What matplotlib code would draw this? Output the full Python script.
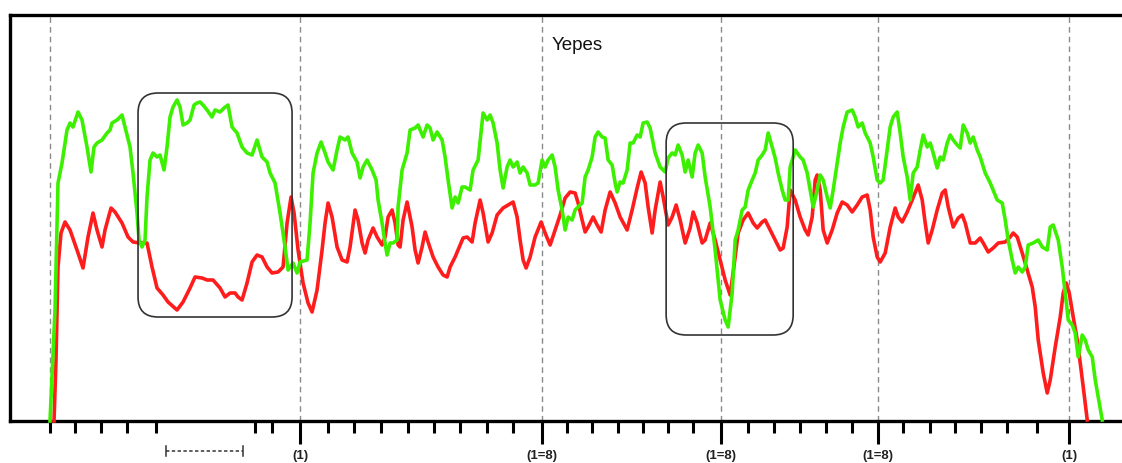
import matplotlib
matplotlib.use("Agg")
import matplotlib.pyplot as plt
from matplotlib.patches import FancyBboxPatch

plt.rcParams['font.family'] = ['Liberation Sans', 'DejaVu Sans']

title = "Yepes"

green_x = [50, 55, 58, 62, 67, 70, 73, 78, 82, 87, 91, 94, 97, 102, 107, 110, 112, 117, 122, 125, 130, 133, 137, 139, 142, 145, 147, 150, 153, 157, 160, 164, 167, 170, 173, 177, 180, 183, 187, 190, 194, 197, 200, 203, 207, 212, 215, 220, 224, 228, 232, 237, 242, 247, 252, 257, 262, 267, 270, 275, 280, 285, 288, 293, 297, 300, 307, 310, 313, 317, 321, 325, 328, 333, 337, 340, 345, 348, 352, 357, 360, 363, 367, 372, 376, 378, 382, 385, 387, 390, 393, 397, 398, 402, 407, 410, 415, 418, 423, 427, 430, 433, 437, 442, 445, 448, 452, 455, 458, 462, 465, 470, 473, 478, 482, 483, 487, 490, 493, 497, 500, 503, 507, 510, 513, 517, 520, 523, 527, 530, 535, 538, 542, 545, 548, 552, 555, 558, 562, 565, 568, 572, 575, 578, 582, 585, 588, 592, 595, 598, 602, 605, 608, 612, 615, 617, 620, 623, 627, 630, 633, 637, 640, 643, 647, 650, 655, 660, 665, 668, 672, 675, 678, 682, 685, 688, 692, 695, 698, 702, 705, 710, 715, 720, 725, 728, 732, 735, 738, 742, 745, 748, 752, 755, 758, 762, 765, 768, 772, 775, 778, 782, 785, 788, 790, 795, 800, 803, 807, 810, 813, 817, 820, 823, 827, 830, 833, 837, 840, 843, 847, 852, 855, 858, 862, 865, 870, 873, 877, 880, 883, 887, 890, 893, 897, 900, 903, 907, 910, 913, 917, 920, 923, 927, 930, 933, 937, 940, 943, 947, 950, 953, 957, 960, 963, 967, 970, 973, 977, 980, 985, 990, 997, 1002, 1005, 1008, 1012, 1015, 1018, 1022, 1025, 1028, 1033, 1038, 1042, 1047, 1050, 1053, 1058, 1062, 1065, 1068, 1072, 1075, 1078, 1082, 1085, 1088, 1092, 1095, 1098, 1102]
green_y = [0, 111, 238, 258, 291, 298, 294, 309, 301, 274, 249, 274, 278, 281, 288, 291, 298, 301, 306, 294, 274, 248, 208, 181, 174, 181, 224, 261, 268, 264, 266, 251, 274, 304, 314, 321, 314, 296, 298, 301, 316, 318, 319, 316, 311, 304, 311, 309, 313, 316, 294, 288, 274, 268, 266, 281, 264, 259, 248, 238, 208, 174, 151, 158, 148, 159, 161, 198, 248, 268, 279, 268, 259, 251, 271, 284, 281, 284, 268, 259, 243, 254, 261, 251, 241, 221, 198, 178, 166, 178, 178, 181, 214, 251, 268, 291, 293, 296, 284, 296, 293, 281, 289, 281, 264, 241, 213, 224, 218, 234, 234, 231, 251, 261, 298, 308, 301, 306, 298, 278, 251, 233, 254, 261, 254, 259, 248, 254, 248, 236, 236, 238, 261, 254, 261, 266, 254, 231, 211, 191, 204, 201, 211, 214, 218, 244, 251, 264, 284, 289, 284, 283, 261, 256, 238, 229, 239, 238, 251, 278, 278, 286, 284, 298, 299, 293, 268, 254, 249, 263, 268, 266, 276, 266, 249, 261, 244, 268, 276, 268, 244, 214, 171, 121, 101, 94, 128, 181, 191, 211, 214, 231, 241, 248, 261, 266, 271, 288, 274, 263, 248, 231, 221, 221, 254, 271, 264, 261, 248, 231, 214, 231, 246, 241, 224, 213, 231, 258, 278, 294, 309, 311, 304, 294, 298, 288, 278, 264, 241, 238, 241, 271, 294, 304, 309, 288, 264, 244, 221, 248, 254, 271, 286, 274, 278, 268, 253, 264, 261, 278, 286, 281, 276, 273, 296, 288, 278, 284, 271, 264, 248, 238, 221, 218, 201, 181, 161, 148, 154, 149, 154, 176, 178, 181, 174, 171, 194, 196, 181, 154, 128, 101, 96, 88, 64, 86, 81, 71, 64, 41, 24, 1]

red_x = [54, 56, 58, 61, 65, 70, 77, 83, 88, 93, 97, 102, 105, 111, 115, 122, 128, 133, 140, 147, 152, 157, 163, 168, 177, 183, 190, 195, 202, 207, 213, 220, 225, 230, 235, 238, 242, 247, 252, 257, 262, 267, 272, 278, 283, 287, 291, 294, 298, 303, 308, 312, 317, 322, 325, 328, 332, 337, 342, 347, 350, 355, 358, 362, 365, 368, 373, 377, 382, 385, 388, 392, 395, 398, 400, 403, 407, 412, 415, 418, 422, 425, 428, 433, 438, 443, 447, 450, 455, 460, 463, 467, 472, 475, 480, 483, 488, 492, 497, 503, 508, 513, 517, 520, 523, 526, 530, 535, 541, 545, 550, 555, 560, 565, 570, 575, 578, 582, 585, 588, 593, 597, 601, 605, 610, 615, 620, 627, 632, 637, 641, 645, 648, 652, 655, 660, 663, 668, 672, 676, 680, 685, 690, 693, 697, 702, 705, 710, 715, 720, 725, 730, 735, 738, 743, 748, 753, 757, 762, 765, 770, 775, 780, 783, 787, 790, 795, 800, 805, 808, 812, 815, 817, 820, 823, 827, 832, 837, 842, 847, 852, 857, 862, 867, 870, 873, 877, 880, 885, 890, 895, 898, 902, 907, 912, 918, 922, 925, 928, 932, 937, 942, 945, 948, 953, 958, 962, 965, 970, 975, 980, 983, 988, 993, 998, 1005, 1010, 1013, 1017, 1022, 1027, 1032, 1035, 1038, 1043, 1047, 1050, 1055, 1060, 1063, 1066, 1069, 1073, 1077, 1080, 1083, 1087]
red_y = [0, 61, 154, 188, 199, 191, 171, 153, 184, 208, 191, 174, 191, 213, 209, 198, 184, 179, 178, 178, 154, 133, 126, 119, 111, 119, 133, 144, 143, 141, 141, 133, 124, 128, 128, 124, 121, 138, 159, 166, 164, 154, 148, 149, 154, 198, 224, 208, 171, 138, 118, 109, 131, 171, 198, 218, 204, 174, 161, 159, 174, 211, 201, 178, 168, 181, 193, 184, 176, 184, 204, 211, 198, 176, 174, 201, 219, 194, 171, 158, 174, 189, 179, 164, 154, 146, 144, 154, 164, 176, 183, 184, 179, 198, 221, 208, 179, 188, 206, 213, 216, 219, 204, 181, 161, 153, 164, 184, 199, 188, 176, 191, 206, 223, 229, 228, 218, 201, 189, 194, 204, 196, 189, 211, 229, 218, 204, 191, 211, 233, 249, 238, 214, 188, 211, 239, 224, 196, 204, 216, 201, 178, 193, 209, 198, 178, 181, 198, 181, 161, 141, 126, 164, 188, 201, 208, 198, 193, 199, 201, 191, 181, 171, 173, 194, 231, 221, 204, 191, 186, 204, 241, 246, 231, 191, 178, 191, 208, 219, 216, 209, 216, 224, 226, 211, 184, 164, 159, 168, 194, 213, 204, 199, 209, 221, 236, 221, 198, 178, 191, 211, 228, 231, 214, 194, 203, 206, 198, 178, 178, 183, 178, 169, 173, 178, 179, 184, 188, 184, 168, 151, 134, 114, 81, 48, 28, 41, 74, 104, 128, 138, 128, 104, 81, 58, 34, 1]

major_ticks = [300, 542, 721, 878, 1069]
major_labels = ["(1)", "(1=8)", "(1=8)", "(1=8)", "(1)"]
minor_ticks = [50, 75, 101, 127, 156, 255, 272, 328, 354, 381, 408, 434, 460, 487, 513,
               567, 592, 618, 643, 668, 693, 748, 774, 800, 826, 852, 903, 930, 955,
               981, 1007, 1037]
grid_x = [50, 300, 542, 721, 878, 1069]

# highlighted windows: (x0, x1, y0, y1)
boxes = [(138, 292, 104, 328), (666, 793, 86, 298)]
bracket = (166, 243, -30)

fig = plt.figure(figsize=(11.22, 4.63), dpi=100)
ax = fig.add_axes([10/1122, 1 - 421/463, 1 - 10/1122 + 0.002, (421 - 15)/463])
ax.set_xlim(10, 1124)
ax.set_ylim(0, 406)

for gx in grid_x:
    ax.axvline(gx, color='#8a8a8a', lw=1.0, ls=(0, (4, 3)), zorder=1)

ax.plot(red_x, red_y, color='#ff1c1c', lw=2.6, solid_joinstyle='round', zorder=3, clip_on=False)
ax.plot(green_x, green_y, color='#3cf000', lw=2.6, solid_joinstyle='round', zorder=4, clip_on=False)

for (x0, x1, y0, y1) in boxes:
    p = FancyBboxPatch((x0, y0), x1 - x0, y1 - y0,
                       boxstyle="round,pad=0,rounding_size=20",
                       fc='none', ec='#333333', lw=1.2, zorder=5)
    ax.add_patch(p)

bx0, bx1, by = bracket
ax.plot([bx0, bx1], [by, by], color='#333333', lw=1.1, ls=(0, (2.2, 1.6)), clip_on=False)
for bxx in (bx0, bx1):
    ax.plot([bxx, bxx], [by - 5, by + 5], color='#333333', lw=1.1, clip_on=False)

ax.set_xticks(major_ticks)
ax.set_xticklabels(major_labels, fontsize=9.5, fontweight='bold', color='#222222')
ax.set_xticks(minor_ticks, minor=True)
ax.tick_params(axis='x', which='major', length=16.5, width=2.2, direction='out', pad=4.5)
ax.tick_params(axis='x', which='minor', length=8.5, width=2.2, direction='out')
ax.set_yticks([])

for s in ('left', 'bottom', 'top'):
    ax.spines[s].set_linewidth(2.4)
    ax.spines[s].set_color('black')
ax.spines['right'].set_visible(False)

ax.text(577, 376, title, ha='center', va='center', fontsize=13.5, color='#111111')

fig.savefig('out.png', dpi=100)
